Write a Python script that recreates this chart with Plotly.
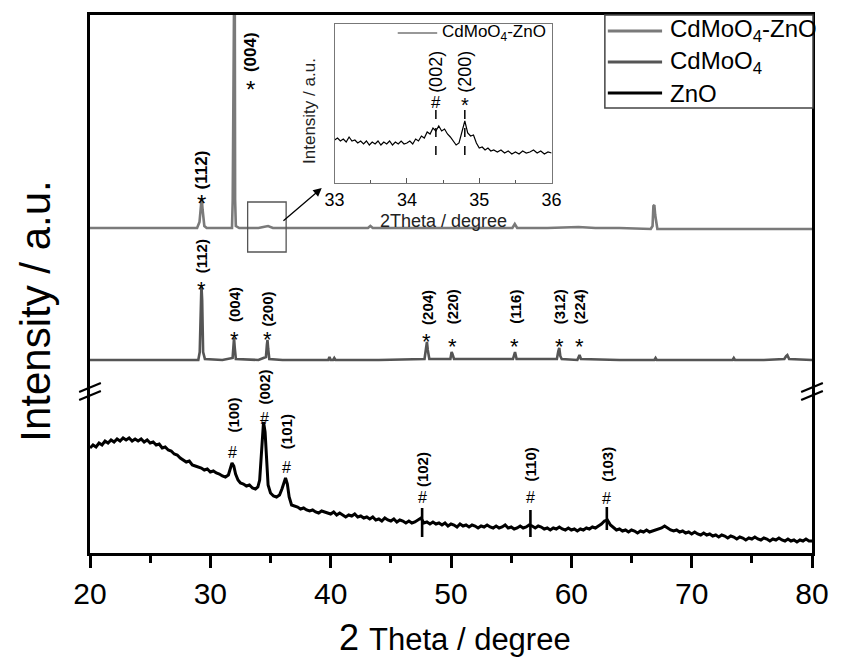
import plotly.graph_objects as go

# ---------------- data ----------------
# ZnO pattern (bottom panel)
zno_2theta = [20.0, 20.25, 20.5, 20.75, 21.0, 21.25, 21.5, 21.75, 22.0, 22.25, 22.5, 22.75,
              23.0, 23.25, 23.5, 23.75, 24.0, 24.25, 24.5, 24.75, 25.0, 25.25, 25.5, 25.75,
              26.0, 26.25, 26.5, 26.75, 27.0, 27.25, 27.5, 27.75, 28.0, 28.25, 28.5, 28.75,
              29.0, 29.25, 29.5, 29.75, 30.0, 30.25, 30.5, 30.75, 31.0, 31.25, 31.5, 31.65,
              31.8, 31.95, 32.1, 32.3, 32.5, 32.75, 33.0, 33.25, 33.5, 33.75, 33.95, 34.1,
              34.2, 34.3, 34.42, 34.55, 34.65, 34.8, 35.0, 35.25, 35.5, 35.75, 35.95, 36.1,
              36.25, 36.4, 36.55, 36.75, 37.0, 37.25, 37.5, 37.75, 38.0, 38.25, 38.5, 38.75,
              39.0, 39.25, 39.5, 39.75,
              40.0, 40.25, 40.5, 40.75, 41.0, 41.25, 41.5, 41.75, 42.0, 42.25, 42.5, 42.75,
              43.0, 43.25, 43.5, 43.75, 44.0, 44.25, 44.5, 44.75, 45.0, 45.25, 45.5, 45.75,
              46.0, 46.25, 46.5, 46.75, 47.0, 47.25, 47.5, 47.75, 48.0, 48.25, 48.5, 48.75,
              49.0, 49.25, 49.5, 49.75, 50.0, 50.25, 50.5, 50.75, 51.0, 51.25, 51.5, 51.75,
              52.0, 52.25, 52.5, 52.75, 53.0, 53.25, 53.5, 53.75, 54.0, 54.25, 54.5, 54.75,
              55.0, 55.25, 55.5, 55.75, 56.0, 56.25, 56.5, 56.75, 57.0, 57.25, 57.5, 57.75,
              58.0, 58.25, 58.5, 58.75, 59.0, 59.25, 59.5, 59.75, 60.0, 60.25, 60.5, 60.75,
              61.0, 61.25, 61.5, 61.75, 62.0, 62.25, 62.5, 62.75, 63.0, 63.25, 63.5, 63.75,
              64.0, 64.25, 64.5, 64.75, 65.0, 65.25, 65.5, 65.75, 66.0, 66.25, 66.5, 66.75,
              67.0, 67.25, 67.5, 67.75, 68.0, 68.25, 68.5, 68.75, 69.0, 69.25, 69.5, 69.75,
              70.0, 70.25, 70.5, 70.75, 71.0, 71.25, 71.5, 71.75, 72.0, 72.25, 72.5, 72.75,
              73.0, 73.25, 73.5, 73.75, 74.0, 74.25, 74.5, 74.75, 75.0, 75.25, 75.5, 75.75,
              76.0, 76.25, 76.5, 76.75, 77.0, 77.25, 77.5, 77.75, 78.0, 78.25, 78.5, 78.75,
              79.0, 79.25, 79.5, 79.75, 80.0]
zno_intensity = [105, 108, 106, 110, 108, 112, 110, 113, 111, 114, 112, 115,
                 113, 115, 112, 114, 112, 114, 111, 113, 110, 111, 108, 109,
                 105, 106, 103, 102, 99, 98, 95, 93, 91, 92, 88, 87,
                 86, 85, 83, 84, 81, 82, 80, 79, 77, 76, 78, 83,
                 90, 87, 79, 73, 70, 69, 67, 68, 65, 64, 66, 73,
                 93, 115, 131, 121, 93, 68, 60, 57, 56, 58, 64, 71,
                 75, 69, 56, 48, 47, 46, 44, 45, 43, 42, 43, 41,
                 40, 42, 41, 40,
                 39, 41, 38, 40, 38, 36, 38, 37, 39, 36, 37, 35,
                 36, 34, 36, 33, 34, 32, 35, 33, 32, 34, 31, 33,
                 32, 30, 32, 30, 31, 33, 35, 30, 31, 29, 31, 29,
                 30, 28, 30, 27, 29, 28, 26, 29, 27, 28, 26, 28,
                 27, 25, 27, 26, 28, 26, 25, 27, 25, 26, 28, 25,
                 26, 24, 25, 27, 25, 26, 28, 27, 25, 27, 26, 24,
                 25, 23, 25, 24, 26, 24, 23, 25, 23, 24, 22, 24,
                 23, 25, 24, 26, 25, 27, 29, 32, 33, 28, 25, 23,
                 24, 22, 23, 21, 23, 22, 20, 22, 21, 23, 21, 22,
                 23, 24, 25, 27, 25, 23, 22, 23, 21, 22, 20, 21,
                 19, 21, 19, 18, 20, 18, 19, 17, 18, 16, 18, 17,
                 15, 17, 16, 14, 16, 15, 13, 15, 14, 16, 14, 13,
                 15, 14, 12, 14, 13, 15, 13, 12, 14, 12, 13, 11,
                 13, 12, 14, 12, 12]

# CdMoO4 pattern (middle panel, stacked)
cdmoo4_2theta = [20, 24, 28, 29.0, 29.12, 29.2, 29.26, 29.32, 29.4, 29.55,
                 31.0, 31.85, 31.92, 31.97, 32.03, 32.12, 34.0, 34.62, 34.7, 34.75,
                 34.81, 34.9, 36, 39.8, 39.9, 40.0, 40.2, 40.3, 40.4, 44,
                 47.8, 47.92, 48.0, 48.07, 48.2, 49.95, 50.05, 50.12, 50.25, 55.15,
                 55.25, 55.32, 55.45, 58.8, 58.92, 59.0, 59.08, 59.2, 60.5, 60.6,
                 60.68, 60.8, 64, 66.9, 67.0, 67.1, 70, 73.4, 73.5, 73.6,
                 76, 77.7, 77.85, 77.95, 78.1, 80]
cdmoo4_intensity = [193, 193, 193, 193, 201, 253, 268, 253, 201, 194,
                    193, 195, 208, 215, 205, 194, 193, 196, 208, 213,
                    204, 194, 193, 193, 196, 193, 193, 195, 193, 193,
                    194, 205, 211, 203, 194, 194, 201, 199, 194, 194,
                    199, 201, 194, 194, 202, 205, 197, 194, 193, 196,
                    198, 194, 193, 193, 195, 193, 193, 193, 195, 193,
                    193, 194, 197, 198, 194, 193]

# CdMoO4-ZnO composite pattern (top panel, stacked)
composite_2theta = [20, 22, 24, 26, 28, 28.9, 29.1, 29.2, 29.28, 29.36,
                    29.5, 29.7, 31.0, 31.8, 31.86, 31.9, 32.02, 32.06, 32.12, 32.4,
                    34.0, 34.4, 34.8, 35.2, 38, 40, 43.1, 43.3, 43.5, 47,
                    50, 55.1, 55.3, 55.5, 58, 60.6, 62, 64, 66.6, 66.75,
                    66.82, 66.9, 66.97, 67.05, 67.15, 69, 72, 75, 78, 80]
composite_intensity = [325, 325, 325, 325, 325, 325, 331, 348, 355, 343,
                       327, 325, 325, 325, 353, 640, 640, 353, 327, 325,
                       325, 326, 327, 325, 325, 325, 325, 327, 325, 325,
                       325, 325, 329, 325, 325, 326, 325, 325, 324, 327,
                       347, 348, 338, 333, 324, 324, 324, 324, 324, 324]

# Enlarged 33-36 degree region of the composite
inset_2theta = [33.0, 33.04, 33.08, 33.12, 33.16, 33.2, 33.24, 33.28, 33.32, 33.36,
                33.4, 33.44, 33.48, 33.52, 33.56, 33.6, 33.64, 33.68, 33.72, 33.76,
                33.8, 33.84, 33.88, 33.92, 33.96, 34.0, 34.04, 34.08, 34.12, 34.16,
                34.2, 34.24, 34.28, 34.32, 34.36, 34.4, 34.44, 34.48, 34.52, 34.56,
                34.6, 34.64, 34.68, 34.72, 34.76, 34.8, 34.84, 34.88, 34.92, 34.96,
                35.0, 35.04, 35.08, 35.12, 35.16, 35.2, 35.25, 35.3, 35.35, 35.4,
                35.45, 35.5, 35.55, 35.6, 35.65, 35.7, 35.75, 35.8, 35.85, 35.9,
                35.95, 36.0]
inset_intensity = [43, 45, 42, 44, 41, 46, 42, 43, 40, 42,
                   39, 42, 38, 41, 39, 42, 38, 41, 39, 42,
                   38, 41, 39, 42, 39, 40, 42, 39, 44, 42,
                   47, 45, 51, 49, 55, 52, 57, 52, 54, 49,
                   46, 42, 38, 40, 51, 62, 50, 47, 48, 40,
                   35, 36, 33, 35, 32, 33, 31, 33, 30, 32,
                   29, 31, 29, 32, 30, 31, 33, 30, 32, 29,
                   31, 30]

# Reflection labels
top_peak_x = [29.26, 33.3]
top_star_y = [357, 471]
top_label_y = [383, 501]
top_labels = ["(112)", "(004)"]

mid_peak_x = [29.25, 31.97, 34.75, 48.0, 50.1, 55.3, 59.0, 60.65]
mid_star_y = [270, 220, 220, 218, 213, 213, 213, 213]
mid_label_y = [297, 248, 244, 246, 246, 246, 246, 246]
mid_labels = ["(112)", "(004)", "(200)", "(204)", "(220)", "(116)", "(312)", "(224)"]

zno_peak_x = [31.85, 34.5, 36.3, 47.6, 56.6, 62.95]
zno_hash_y = [101, 135, 86, 56, 56, 55]
zno_label_y = [138, 166, 121, 83, 89, 89]
zno_labels = ["(100)", "(002)", "(101)", "(102)", "(110)", "(103)"]

# short reference bars through the weak ZnO reflections
zno_bar_x = [47.6, 56.6, 62.95]
zno_bar_top = [45, 43, 46]
zno_bar_bottom = [16, 16, 23]

inset_peak_x = [34.4, 34.8]
inset_symbols = ["#", "*"]
inset_symbol_y = [81, 83]
inset_label_y = [111, 111]
inset_labels = ["(002)", "(200)"]
inset_dash_top = [73, 73]
inset_dash_bottom = [28, 28]

zoom_box_x = [33.1, 36.3]
zoom_box_y = [301, 351]

# ---------------- figure ----------------
FONT = "Liberation Sans, Arial, sans-serif"
GRAY_TOP = "#7a7a7a"
GRAY_MID = "#555555"

W, H = 841, 658
L, R, T, B = 90, 19, 15, 105


def px(x):
    return (x - L) / (W - L - R)


def py(y):
    return (H - B - y) / (H - B - T)


fig = go.Figure()

fig.add_trace(go.Scatter(x=composite_2theta, y=composite_intensity, mode="lines",
                         line=dict(color=GRAY_TOP, width=2.6), showlegend=False))
fig.add_trace(go.Scatter(x=cdmoo4_2theta, y=cdmoo4_intensity, mode="lines",
                         line=dict(color=GRAY_MID, width=2.6), showlegend=False))
fig.add_trace(go.Scatter(x=zno_2theta, y=zno_intensity, mode="lines",
                         line=dict(color="black", width=3), showlegend=False))

bar_x, bar_y = [], []
for bx, bt, bb in zip(zno_bar_x, zno_bar_top, zno_bar_bottom):
    bar_x += [bx, bx, None]
    bar_y += [bt, bb, None]
fig.add_trace(go.Scatter(x=bar_x, y=bar_y, mode="lines",
                         line=dict(color="black", width=2.6), showlegend=False))

# inset trace
fig.add_trace(go.Scatter(x=inset_2theta, y=inset_intensity, mode="lines", xaxis="x2", yaxis="y2",
                         line=dict(color="black", width=1.2), showlegend=False))
dash_x, dash_y = [], []
for dx, dt, db in zip(inset_peak_x, inset_dash_top, inset_dash_bottom):
    dash_x += [dx, dx, None]
    dash_y += [dt, db, None]
fig.add_trace(go.Scatter(x=dash_x, y=dash_y, mode="lines", xaxis="x2", yaxis="y2",
                         line=dict(color="black", width=1.5, dash="dash"), showlegend=False))

ann = []


def text_at(x, y, text, size, xref="x", yref="y", angle=0, shift=0,
            xanchor="center", color="black"):
    ann.append(dict(x=x, y=y, xref=xref, yref=yref, text=text, showarrow=False,
                    textangle=angle, font=dict(family=FONT, size=size, color=color),
                    xanchor=xanchor, yanchor="middle", yshift=shift))


for x, sy, ly, t in zip(top_peak_x, top_star_y, top_label_y, top_labels):
    text_at(x, sy, "*", 24, shift=-7)
    text_at(x, ly, f"<b>{t}</b>", 17, angle=-90)
for x, sy, ly, t in zip(mid_peak_x, mid_star_y, mid_label_y, mid_labels):
    text_at(x, sy, "*", 22, shift=-6)
    text_at(x, ly, f"<b>{t}</b>", 15, angle=-90)
for x, sy, ly, t in zip(zno_peak_x, zno_hash_y, zno_label_y, zno_labels):
    text_at(x, sy, "#", 16)
    text_at(x, ly, f"<b>{t}</b>", 15, angle=-90)
for x, s, sy, ly, t in zip(inset_peak_x, inset_symbols, inset_symbol_y, inset_label_y, inset_labels):
    text_at(x, sy, s, 20 if s == "*" else 17, xref="x2", yref="y2", shift=-5 if s == "*" else 0)
    text_at(x, ly, t, 18, xref="x2", yref="y2", angle=-90)

# arrow from the zoom box to the inset
ann.append(dict(x=39.26, y=365, ax=35.95, ay=331, xref="x", yref="y", axref="x", ayref="y",
                showarrow=True, arrowhead=2, arrowsize=1.3, arrowwidth=1.3, arrowcolor="black", text=""))

# axis titles
text_at(px(34), py(311), "Intensity / a.u.", 42, xref="paper", yref="paper", angle=-90)
text_at(px(460), py(637), "2 <span style='font-size:31px'>Theta / degree</span>", 36,
        xref="paper", yref="paper")
text_at(px(312), py(111), "Intensity / a.u.", 17, xref="paper", yref="paper", angle=-90,
        color="#222")
text_at(px(448), py(221), "2Theta / degree", 18, xref="paper", yref="paper", color="#222")

# legend (main)
shapes = []
shapes.append(dict(type="rect", xref="paper", yref="paper", x0=px(612), x1=px(823),
                   y0=py(108), y1=py(15), fillcolor="white", line=dict(color="#444", width=1.5),
                   layer="above"))
legend_items = [("CdMoO<sub>4</sub>-ZnO", GRAY_TOP, 2.8), ("CdMoO<sub>4</sub>", GRAY_MID, 2.8),
                ("ZnO", "black", 3.2)]
for i, (name, col, wd) in enumerate(legend_items):
    yy = 31 + i * 31
    shapes.append(dict(type="line", xref="paper", yref="paper", x0=px(615), x1=px(670),
                       y0=py(yy), y1=py(yy), line=dict(color=col, width=wd), layer="above"))
    text_at(px(676), py(yy), name, 24, xref="paper", yref="paper", xanchor="left")

# legend (inset)
shapes.append(dict(type="line", xref="paper", yref="paper", x0=px(402), x1=px(442),
                   y0=py(33), y1=py(33), line=dict(color="#333", width=1.2)))
text_at(px(445), py(33), "CdMoO<sub>4</sub>-ZnO", 17, xref="paper", yref="paper", xanchor="left")

# zoom box
shapes.append(dict(type="rect", xref="x", yref="y", x0=zoom_box_x[0], x1=zoom_box_x[1],
                   y0=zoom_box_y[0], y1=zoom_box_y[1], line=dict(color="#555", width=1.3)))

# axis-break marks on both vertical axes
for xc in (90, 822):
    for off in (0, 8):
        shapes.append(dict(type="line", xref="paper", yref="paper",
                           x0=px(xc - 11), y0=py(392 + off), x1=px(xc + 11), y1=py(383 + off),
                           line=dict(color="black", width=2.2)))

fig.update_layout(
    width=W, height=H,
    margin=dict(l=L, r=R, t=T, b=B),
    paper_bgcolor="white", plot_bgcolor="white",
    font=dict(family=FONT, color="black"),
    showlegend=False,
    xaxis=dict(range=[20, 80], dtick=10, ticks="outside", ticklen=12, tickwidth=2.5,
               tickcolor="black", tickfont=dict(size=30, family=FONT),
               showline=True, linewidth=2.5, linecolor="black", mirror=True,
               showgrid=False, zeroline=False,
               minor=dict(dtick=5, ticks="outside", ticklen=7, tickwidth=2.5, tickcolor="black")),
    yaxis=dict(range=[0, 538], showticklabels=False, ticks="", showline=True, linewidth=2.5,
               linecolor="black", mirror=True, showgrid=False, zeroline=False),
    xaxis2=dict(domain=[px(338), px(558)], anchor="y2", range=[33, 36], dtick=1,
                ticks="inside", ticklen=5, tickwidth=1, tickcolor="#555",
                tickfont=dict(size=18, family=FONT), showline=True, linewidth=1.2,
                linecolor="#777", mirror=True, showgrid=False, zeroline=False,
                minor=dict(dtick=0.5, ticks="inside", ticklen=3, tickwidth=1, tickcolor="#555")),
    yaxis2=dict(domain=[py(183), py(24)], anchor="x2", range=[0, 159], showticklabels=False,
                ticks="", showline=True, linewidth=1.2, linecolor="#777", mirror=True,
                showgrid=False, zeroline=False),
    annotations=ann,
    shapes=shapes,
)

fig.write_html("out.html")
